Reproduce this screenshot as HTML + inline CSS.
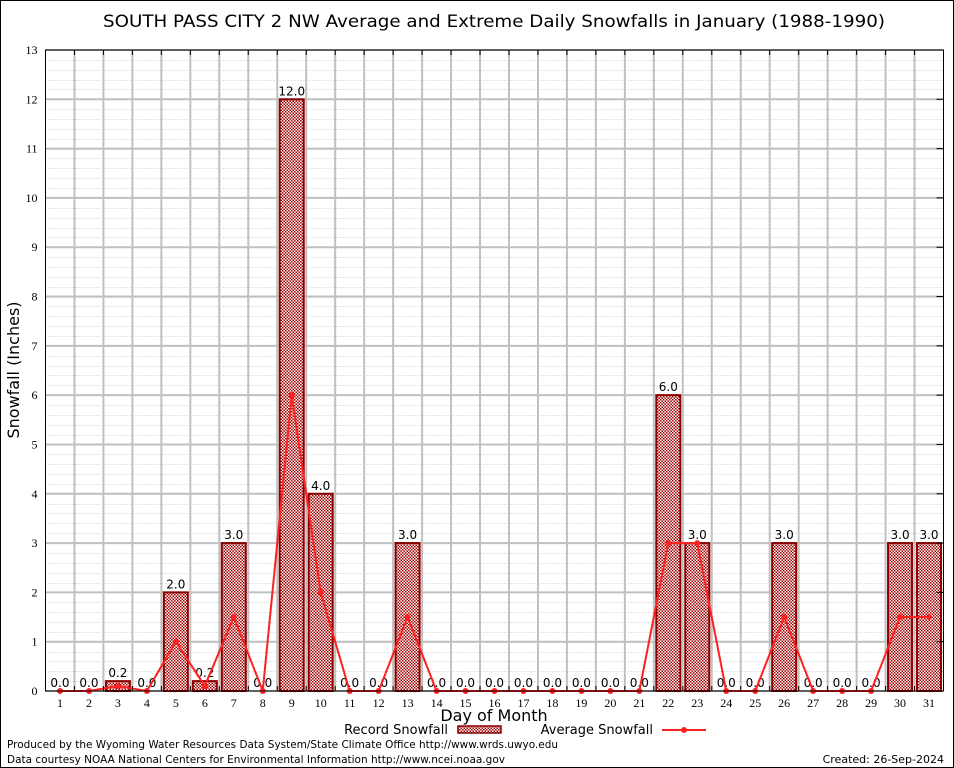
<!DOCTYPE html>
<html><head><meta charset="utf-8"><style>
html,body{margin:0;padding:0;background:#fff;}
svg{display:block;font-family:"DejaVu Sans","Liberation Sans",sans-serif;}
</style></head><body>
<svg id="chart" width="954" height="768" viewBox="0 0 954 768">
<defs>
<pattern id="hatch" width="3" height="3" patternUnits="userSpaceOnUse">
<rect width="3" height="3" fill="#fff"/>
<rect width="1.5" height="1.5" fill="#a00000"/>
<rect x="1.5" y="1.5" width="1.5" height="1.5" fill="#a00000"/>
</pattern>
</defs>
<rect x="0.5" y="0.5" width="953" height="767" fill="#fff" stroke="#000"/>
<text x="494" y="27" font-size="17" text-anchor="middle" textLength="782" lengthAdjust="spacingAndGlyphs">SOUTH PASS CITY 2 NW Average and Extreme Daily Snowfalls in January (1988-1990)</text>
<g id="grid"></g>
<g id="bars"></g>
<g id="line"></g>
<g id="axes"></g>
<text x="19" y="370" font-size="16" text-anchor="middle" transform="rotate(-90 19 370)">Snowfall (Inches)</text>
<text x="494" y="721" font-size="16" text-anchor="middle">Day of Month</text>
<g>
<text x="448" y="734" font-size="13" text-anchor="end">Record Snowfall</text>
<rect x="458" y="726" width="43" height="7" fill="url(#hatch)" stroke="#8b0000" stroke-width="1.5"/>
<text x="653" y="734" font-size="13" text-anchor="end">Average Snowfall</text>
<line x1="662" y1="730" x2="706" y2="730" stroke="#ff2020" stroke-width="2"/>
<circle cx="684" cy="730" r="3" fill="#ff2020"/>
</g>
<text x="7" y="748" font-size="11" textLength="551" lengthAdjust="spacingAndGlyphs">Produced by the Wyoming Water Resources Data System/State Climate Office http://www.wrds.uwyo.edu</text>
<text x="7" y="763" font-size="11" textLength="498" lengthAdjust="spacingAndGlyphs">Data courtesy NOAA National Centers for Environmental Information http://www.ncei.noaa.gov</text>
<text x="944" y="763" font-size="11" text-anchor="end">Created:  26-Sep-2024</text>
</svg>
<script>
const days = [1,2,3,4,5,6,7,8,9,10,11,12,13,14,15,16,17,18,19,20,21,22,23,24,25,26,27,28,29,30,31];
const recordSnow = [0,0,0.2,0,2,0.2,3,0,12,4,0,0,3,0,0,0,0,0,0,0,0,6,3,0,0,3,0,0,0,3,3];
const avgSnow = [0,0,0.1,0,1,0.1,1.5,0,6,2,0,0,1.5,0,0,0,0,0,0,0,0,3,3,0,0,1.5,0,0,0,1.5,1.5];
const yTicks = [0,1,2,3,4,5,6,7,8,9,10,11,12,13];

const L=45.5,R=943.5,T=50,B=691;
const NS="http://www.w3.org/2000/svg";
const xs=d=>L+(d-0.5)*(R-L)/days.length;
const ys=v=>B-v*(B-T)/13;
const bw=(R-L)/days.length;
function mk(tag,attrs,parent){const e=document.createElementNS(NS,tag);for(const k in attrs)e.setAttribute(k,attrs[k]);parent.appendChild(e);return e;}
const grid=document.getElementById('grid'),bars=document.getElementById('bars'),line=document.getElementById('line'),axes=document.getElementById('axes');
mk('rect',{x:L,y:T,width:R-L,height:B-T,fill:'#fff'},grid);
for(let v=0;v<=13;v+=0.2){const y=Math.round(ys(v))+0.5;
 const l=mk('line',{x1:L,x2:R,y1:y,y2:y,stroke:'#c8c8c8','stroke-width':1,'stroke-dasharray':'1,2'},grid);
 
 }
yTicks.forEach(v=>{const y=ys(v);
 const l=mk('line',{x1:L,x2:R,y1:y,y2:y,stroke:'#c0c0c0','stroke-width':2},grid);
 
 
 const t=mk('text',{x:L-8,y:y+4,'font-size':12,'text-anchor':'end','font-family':'Liberation Serif, serif'},axes);t.textContent=v;
 
 
 mk('line',{x1:R-7,x2:R,y1:y,y2:y,stroke:'#000'},axes);
});
for(let i=1;i<days.length;i++){const x=L+i*bw;
 const l=mk('line',{x1:x,x2:x,y1:T,y2:B,stroke:'#c0c0c0','stroke-width':2},grid);
 
 
 mk('line',{x1:x,x2:x,y1:T,y2:T+5,stroke:'#000'},axes);
 mk('line',{x1:x,x2:x,y1:B,y2:B-5,stroke:'#000'},axes);}
mk('rect',{x:L,y:T,width:R-L,height:B-T,fill:'none',stroke:'#000'},axes);
days.forEach((d,i)=>{const x=xs(d),v=recordSnow[i];
 if(v>0){const b=mk('rect',{x:x-12,y:ys(v),width:24,height:B-ys(v),fill:'url(#hatch)',stroke:'#8b0000','stroke-width':2},bars);
  
  }
 const t=mk('text',{x:x,y:ys(v)-4,'font-size':12,'text-anchor':'middle'},bars);t.textContent=v.toFixed(1);
 
 
 const tl=mk('text',{x:x,y:B+16,'font-size':12,'text-anchor':'middle','font-family':'Liberation Serif, serif'},axes);tl.textContent=d;
 
 
});
const pts=days.map((d,i)=>xs(d)+','+ys(avgSnow[i])).join(' ');
const pl=mk('polyline',{points:pts,fill:'none',stroke:'#ff2020','stroke-width':2},line);


days.forEach((d,i)=>{const c=mk('circle',{cx:xs(d),cy:ys(avgSnow[i]),r:3,fill:'#ff2020'},line);
 
 });
</script>
</body></html>
